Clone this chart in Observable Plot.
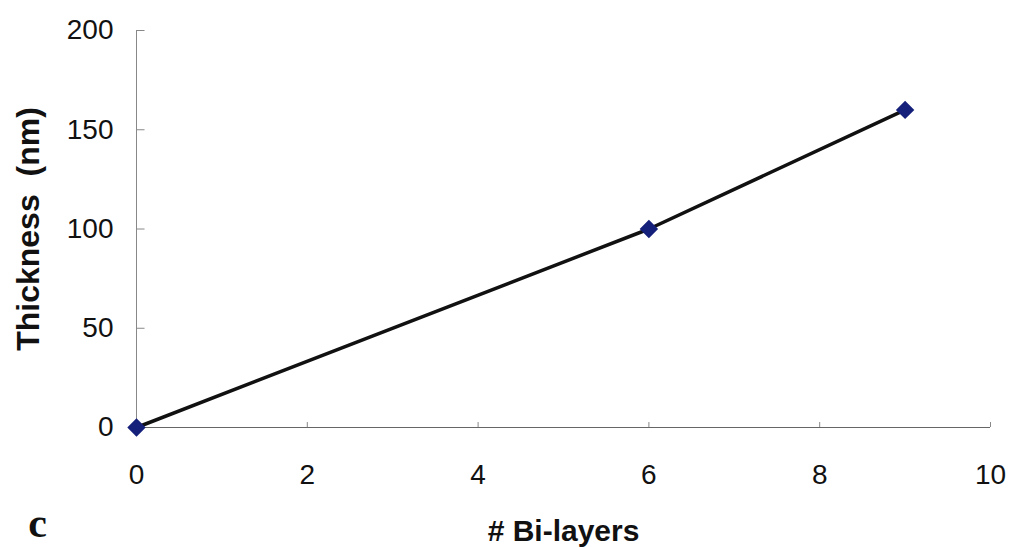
<!DOCTYPE html>
<html>
<head>
<meta charset="utf-8">
<script src="https://cdn.jsdelivr.net/npm/d3@7"></script>
<script src="https://cdn.jsdelivr.net/npm/@observablehq/plot@0.6"></script>
<style>
  html, body { margin: 0; padding: 0; background: #fff; }
  #chart { position: relative; width: 1010px; height: 547px; }
</style>
</head>
<body>
<div id="chart"></div>
<script>
const layers = [0, 6, 9];
const thickness = [0, 100, 160];
const xTicks = [0, 2, 4, 6, 8, 10];
const yTicks = [0, 50, 100, 150, 200];
const panelLabel = "c";
const xLabel = "# Bi-layers";
const yLabel = "Thickness  (nm)";

const data = layers.map((x, i) => ({x, y: thickness[i]}));
const font = "'Liberation Sans', Arial, sans-serif";

const plot = Plot.plot({
  width: 1010,
  height: 547,
  marginLeft: 136,
  marginRight: 20,
  marginTop: 30,
  marginBottom: 120,
  style: {fontFamily: font, fontSize: "28px", color: "#111", background: "#fff"},
  x: {domain: [0, 10], ticks: xTicks},
  y: {domain: [0, 200], ticks: yTicks},
  marks: [
    Plot.axisX({ticks: xTicks, tickSize: 0, tickPadding: 37, fontSize: 28, label: null}),
    Plot.axisY({ticks: yTicks, tickSize: 0, tickPadding: 23, fontSize: 28, label: null}),
    Plot.ruleX([0], {stroke: "#888", strokeWidth: 1}),
    Plot.ruleY([0], {stroke: "#666", strokeWidth: 1.2}),
    Plot.ruleY(yTicks, {y: d => d, x1: 0, x2: 0.1, stroke: "#888", strokeWidth: 1}),
    Plot.ruleX(xTicks, {x: d => d, y1: 0, y2: 2.5, stroke: "#888", strokeWidth: 1}),
    Plot.line(data, {x: "x", y: "y", stroke: "#111", strokeWidth: 3.5}),
    Plot.dot(data, {x: "x", y: "y", symbol: "square", r: 6.5, rotate: 45, fill: "#15207a", stroke: "#15207a"}),
    Plot.text([xLabel], {frameAnchor: "bottom", lineAnchor: "middle", textAnchor: "middle", dy: 104, text: d => d, fontSize: 30, fontWeight: "bold", fontFamily: font, letterSpacing: 1}),
    Plot.text([yLabel], {frameAnchor: "left", lineAnchor: "middle", textAnchor: "middle", dx: -108, dy: 0, rotate: -90, text: d => d, fontSize: 32, fontWeight: "bold", fontFamily: font, letterSpacing: 1.5}),
    Plot.text([panelLabel], {frameAnchor: "bottom-left", lineAnchor: "middle", textAnchor: "middle", dx: -99, dy: 96, text: d => d, fontSize: 42, fontWeight: "bold", fontFamily: "'Liberation Serif', 'Times New Roman', serif"})
  ]
});
document.getElementById("chart").appendChild(plot);
</script>
</body>
</html>
